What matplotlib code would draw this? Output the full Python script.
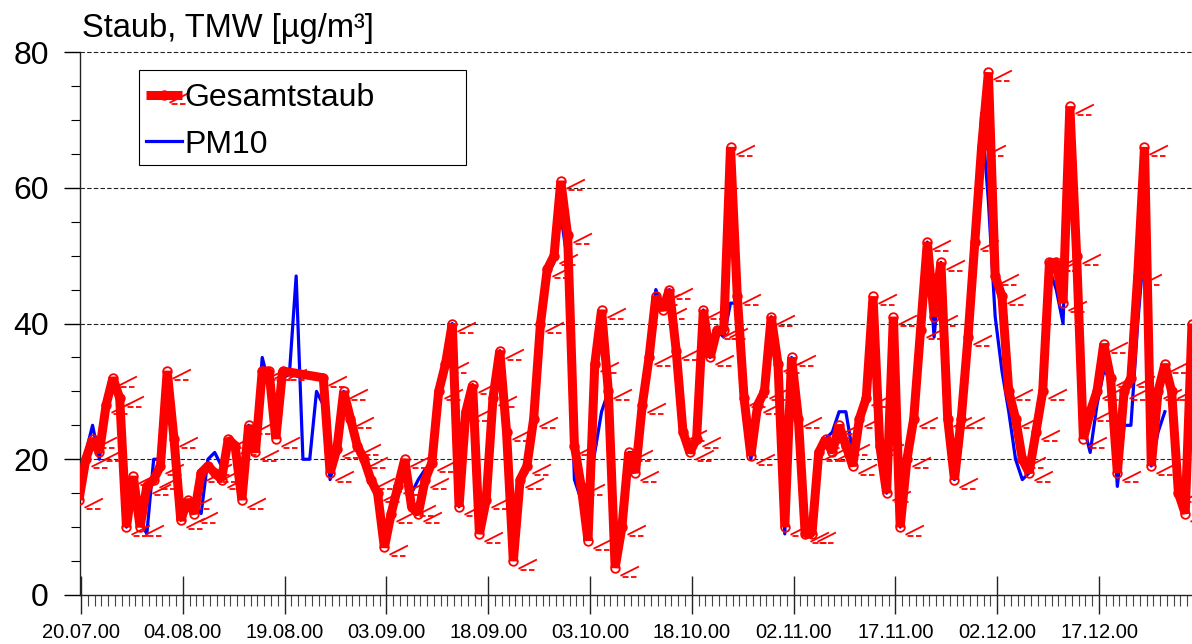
import numpy as np
import matplotlib
matplotlib.use("Agg")
import matplotlib.pyplot as plt
from matplotlib.path import Path
from matplotlib.patches import Rectangle
from matplotlib.ticker import FixedLocator, MultipleLocator

plt.rcParams['font.family'] = ['Liberation Sans', 'DejaVu Sans']

# ---------------- data ----------------
title = "Staub, TMW [µg/m³]"
tick_days = [0, 15, 30, 45, 60, 75, 90, 105, 120, 135, 150]
tick_labels = ["20.07.00", "04.08.00", "19.08.00", "03.09.00", "18.09.00", "03.10.00",
               "18.10.00", "02.11.00", "17.11.00", "02.12.00", "17.12.00"]

# daily means from 20.07.00 (day 0) onward
gesamtstaub = [
    14, 20, 23, 21, 28, 32, 29, 10, 17.5, 10,
    16, 17, 19, 33, 23, 11, 14, 12, 18, 19,
    18, 17, 23, 22, 14, 25, 21, 33, 33, 23,
    33, None, None, None, None, None, 32, 18, 21.5, 30,
    26, 22, 20, 17, 15, 7, 12, 16, 20, 13,
    12, 17, 19.5, 30, 34, 40, 13, 27, 31, 9,
    14, 29, 36, 24, 5, 17, 19, 26, 40, 48,
    50, 61, 53, 22, 16, 8, 34, 42, 30, 4,
    10, 21, 18, 28, 35, 44, 42, 45, 36, 24,
    21, 23, 42, 35, 39, 39, 66, 44, 29, 20.5,
    28, 30, 41, 34, 10, 35, 26, 9, 9, 21,
    23, 21, 25, 22, 19, 26, 29, 44, 22, 15,
    41, 10, 20, 26, 39, 52, 41, 49, 26, 17,
    26, 38, 52, 66, 77, 47, 44, 30, 26, 20,
    18, 24, 30, 49, 49, 43, 72, 50, 23, 27,
    30, 37, 32, 18, 30, 32, 47, 66, 19, 30,
    34, 30, 15, 12, 40,
]
pm10 = [
    15, 21, 25, 20, 27, 31, 30, 10, 17, 11,
    9, 20, 20, 32, 24, 11, 13, 13, 12, 20,
    21, 19, 23, 22, 15, 25, 22, 35, 31, 24,
    32, 32.5, 47, 20, 20, 30, 28, 17, 21, 30,
    26, 23, 20, 17, 15, 9, 12, 16, 19.5, 15,
    17, 18.5, 19.5, 30, 34, 40, 13, 27, 31, 10,
    15, 28, 36, 24, 6, 17, 18, 24, 38, 47,
    49, 56, 49, 17, 14, 14, 21, 27, 30, 5,
    10, 21, 21, 28, 35, 45, 42, 45, 36, 24,
    22, 23, 42, 35, 39, 38, 43, 43, 29, 20,
    26, 30, 41, 36, 9, 35, 27, 9, 9, 20,
    23, 24, 27, 27, 21, 26, 29, 43, 22, 15,
    40, 10, 20, 26, 38, 52, 38, 49, 26, 17,
    24, 36, 50, 71, 58, 41, 33, 27, 20, 17,
    18, 24, 30, 48, 45, 40, 71, 50, 25, 21,
    28, 33, 32, 16, 25, 25, 40, 52, 19, 24,
    27, None, None, None, None,
]

# ---------------- figure ----------------
fig = plt.figure(figsize=(11.92, 6.44), dpi=100)
ax = fig.add_axes([80 / 1192, 49 / 644, 1112 / 1192, 543 / 644])

days = np.arange(len(gesamtstaub)) - 0.3
g = np.array([np.nan if v is None else v for v in gesamtstaub], dtype=float)
m = np.array([np.nan if v is None else v for v in pm10], dtype=float)
mg = ~np.isnan(g)
mm = ~np.isnan(m)

# custom marker: small circle + angled flag
circ = Path.circle((0, 0), 4.3)
flag = Path([(5, -7.3), (23.4, 2), (7, -8.5), (13, -8.5), (15.5, -8.5), (21, -8.5)],
            [Path.MOVETO, Path.LINETO] * 3)
mpath = Path.make_compound_path(circ, flag)

for v in (20, 40, 60, 80):
    ax.axhline(v, color='#222222', lw=0.8, ls=(0, (4, 2)), zorder=1, clip_on=False)

h_blue, = ax.plot(days[mm], m[mm], color='#0000ff', lw=2.3, zorder=2, label='PM10')
h_red, = ax.plot(days[mg], g[mg], color='#ff0000', lw=6.5, solid_joinstyle='bevel',
                 solid_capstyle='butt', marker=mpath, ms=33.7, mfc='none',
                 mec='#ff0000', mew=1.3, zorder=3, label='Gesamtstaub')

ax.set_xlim(-0.15, 163.7)
ax.set_ylim(0, 80)

ax.xaxis.set_major_locator(FixedLocator(tick_days))
ax.set_xticklabels(tick_labels)
ax.xaxis.set_minor_locator(MultipleLocator(1))
ax.tick_params(axis='x', which='major', direction='inout', length=27, width=1,
               labelsize=14.5, pad=6.5, color='#222222')
ax.tick_params(axis='x', which='minor', direction='out', length=8, width=0.8, color='#444444')

ax.yaxis.set_major_locator(MultipleLocator(20))
ax.yaxis.set_minor_locator(MultipleLocator(5))
ax.tick_params(axis='y', which='major', direction='out', length=11.5, width=1,
               labelsize=23, pad=11)
ax.tick_params(axis='y', which='minor', direction='out', length=6.5, width=0.8)

for s in ('top', 'right'):
    ax.spines[s].set_visible(False)
for s in ('left', 'bottom'):
    ax.spines[s].set_linewidth(1)
    ax.spines[s].set_color('#222222')

fig.text(82 / 1192, 1 - 37 / 644, title, fontsize=23.5, ha='left', va='baseline')

# legend frame drawn as a rectangle (axes fraction)
lx0, lx1 = (139 - 80) / 1112, (466 - 80) / 1112
ly0, ly1 = 1 - (165 - 52) / 543, 1 - (70 - 52) / 543
ax.add_patch(Rectangle((lx0, ly0), lx1 - lx0, ly1 - ly0, transform=ax.transAxes,
                       facecolor='white', edgecolor='black', lw=0.8, zorder=4))

leg = ax.legend(handles=[h_red, h_blue], labels=['Gesamtstaub', 'PM10'],
                loc='upper left', bbox_to_anchor=((146 - 80) / 1112, 1 - (83 - 52) / 543),
                borderaxespad=0, fontsize=23, frameon=False,
                handlelength=1.13, handletextpad=0.06, borderpad=0,
                labelspacing=0.52, numpoints=1)
leg.set_zorder(5)

fig.savefig("out.png", dpi=100)
